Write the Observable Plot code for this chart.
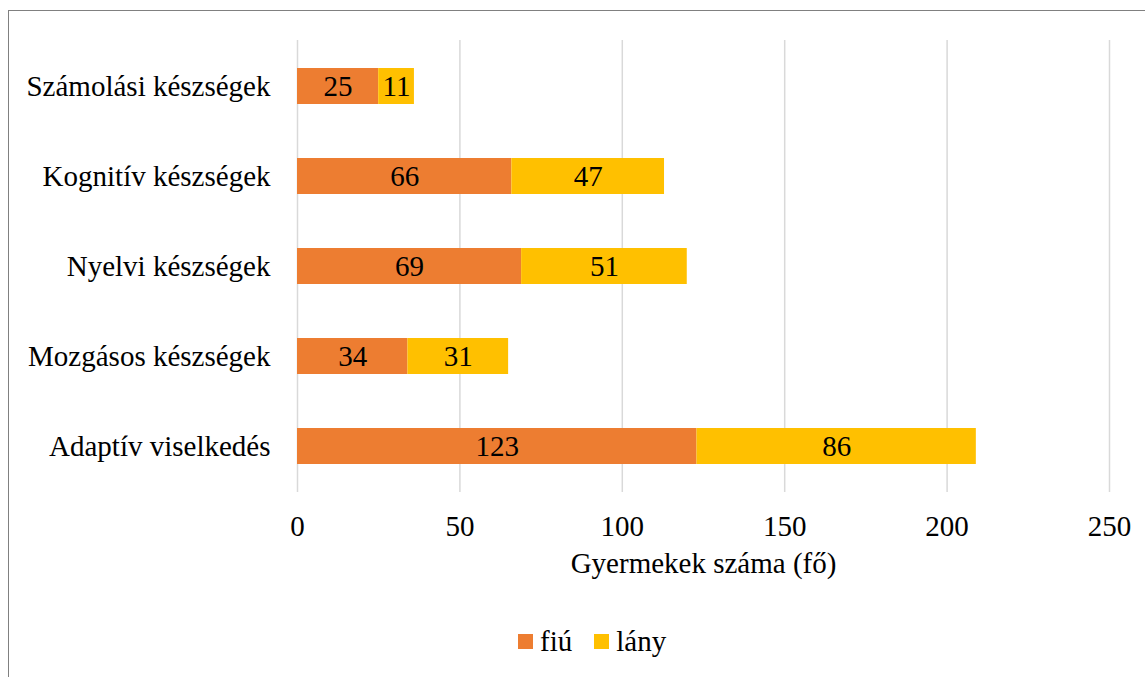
<!DOCTYPE html>
<html>
<head>
<meta charset="utf-8">
<script src="https://cdn.jsdelivr.net/npm/d3@7"></script>
<script src="https://cdn.jsdelivr.net/npm/@observablehq/plot@0.6"></script>
<style>
  html, body { margin: 0; padding: 0; background: #fff; }
  #wrap { position: relative; width: 1145px; height: 677px; overflow: hidden; background: #fff; }
  #frame { position: absolute; left: 8px; top: 10px; width: 1200px; height: 720px; border: 1px solid #808080; box-sizing: border-box; }
  #chart { position: absolute; left: 0; top: 0; }
  #legend { position: absolute; left: 518px; top: 625px; display: flex; align-items: center; font-family: "Liberation Serif", serif; font-size: 29px; line-height: 32px; color: #000; }
  .sw { width: 15px; height: 15px; display: inline-block; margin-right: 7px; }
  .item { display: flex; align-items: center; margin-right: 22px; }
</style>
</head>
<body>
<div id="wrap">
  <div id="frame"></div>
  <div id="chart"></div>
  <div id="legend"></div>
</div>
<script>
const categories = ["Számolási készségek", "Kognitív készségek", "Nyelvi készségek", "Mozgásos készségek", "Adaptív viselkedés"];
const fiu = [25, 66, 69, 34, 123];
const lany = [11, 47, 51, 31, 86];
const series = ["fiú", "lány"];
const colors = ["#ED7D31", "#FFC000"];
const xTicks = [0, 50, 100, 150, 200, 250];
const xLabel = "Gyermekek száma (fő)";

const data = [];
categories.forEach((c, i) => data.push({cat: c, sex: series[0], value: fiu[i]}));
categories.forEach((c, i) => data.push({cat: c, sex: series[1], value: lany[i]}));

const font = "Liberation Serif, serif";

const chart = Plot.plot({
  width: 1145,
  height: 600,
  marginLeft: 297,
  marginRight: 36,
  marginTop: 40,
  marginBottom: 108,
  style: { fontFamily: font, fontSize: "29px", color: "#000", background: "transparent", overflow: "visible" },
  x: { domain: [0, 250] },
  y: { domain: categories, paddingInner: 0.6, paddingOuter: 0.3 },
  color: { domain: series, range: colors },
  marks: [
    Plot.gridX(xTicks, { stroke: "#d9d9d9", strokeOpacity: 1, strokeWidth: 1.5 }),
    Plot.barX(data, Plot.stackX({ x: "value", y: "cat", fill: "sex", z: "sex" })),
    Plot.text(data, Plot.stackX({ x: "value", y: "cat", z: "sex", text: d => String(d.value), fill: "#000", fontSize: 29, fontFamily: font })),
    Plot.axisX({ ticks: xTicks, tickSize: 0, tickPadding: 23, label: xLabel, labelAnchor: "center", labelArrow: "none", labelOffset: 80, fontSize: 29, fontFamily: font }),
    Plot.axisY({ tickSize: 0, tickPadding: 27, label: null, fontSize: 29, fontFamily: font })
  ]
});
chart.setAttribute("font-family", font);
chart.querySelectorAll("g, text").forEach(el => {
  el.setAttribute("font-family", font);
  el.style.fontFamily = font;
});
document.getElementById("chart").appendChild(chart);

const legend = document.getElementById("legend");
series.forEach((s, i) => {
  const item = document.createElement("span");
  item.className = "item";
  const sw = document.createElement("span");
  sw.className = "sw";
  sw.style.background = colors[i];
  const t = document.createElement("span");
  t.textContent = s;
  item.appendChild(sw);
  item.appendChild(t);
  legend.appendChild(item);
});
</script>
</body>
</html>
